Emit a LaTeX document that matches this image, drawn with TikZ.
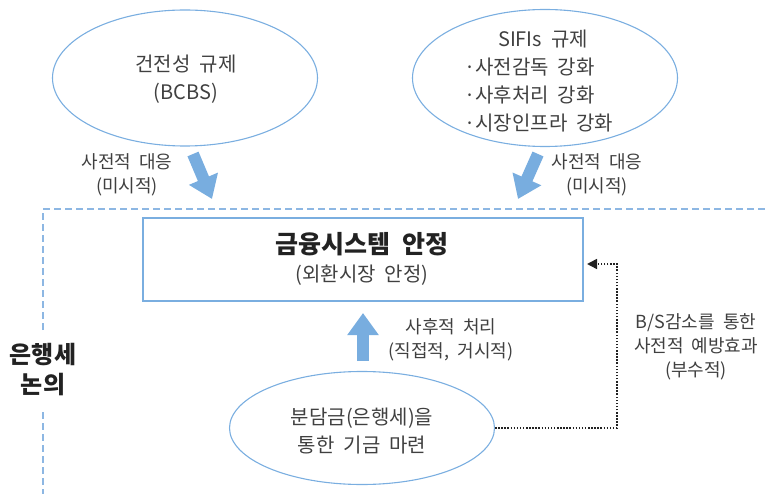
\documentclass[tikz,border=0pt]{standalone}
\usepackage{fontspec}
\setmainfont[WordSpace=2]{Noto Sans CJK KR}
\usetikzlibrary{arrows.meta,shapes.geometric}
\definecolor{lineblue}{HTML}{7AAEE0}
\definecolor{arrowblue}{HTML}{78ADDF}
\definecolor{frameblue}{HTML}{8DB7E3}
\definecolor{txt}{HTML}{404040}
\definecolor{dark}{HTML}{222222}
\tikzset{
  ell/.style={ellipse, draw=lineblue, line width=1.1bp, inner sep=0pt},
  maintxt/.style={align=center, text=txt, inner sep=0pt, font=\fontsize{20bp}{28bp}\selectfont},
  labtxt/.style={align=center, text=txt, inner sep=0pt, font=\fontsize{18bp}{24bp}\selectfont},
  fatarrow/.style={draw=arrowblue, line width=12bp, -{Triangle[width=30bp,length=22bp]}},
  dotline/.style={draw=dark, line width=1.5bp, dash pattern=on 1.5bp off 1.6bp, -{Triangle[width=10bp,length=10bp]}},
  frameline/.style={draw=frameblue, line width=1.2bp, dash pattern=on 7bp off 4bp},
  boxstyle/.style={rectangle, draw=lineblue, line width=1.1bp, inner sep=0pt}
}
\begin{document}
\begin{tikzpicture}[x=1bp,y=-1bp]
\useasboundingbox (0,0) rectangle (768,494);
% frame
\coordinate (fa) at (43,330);
\coordinate (fb) at (43,209);
\coordinate (fc) at (768,209);
\coordinate (fd) at (43,412);
\coordinate (fe) at (43,494);
\draw[frameline] (fa) -- (fb) -- (fc);
\draw[frameline] (fd) -- (fe);
\node[align=center, text=dark, inner sep=0pt, font=\fontsize{24bp}{30bp}\selectfont\bfseries] (bank) at (43,370) {은행세\\논의};
% top ellipses
\node[ell, minimum width=265bp, minimum height=136bp] (bcbsell) at (185,78) {};
\node[maintxt] (bcbs) at (186,79) {건전성 규제\\(BCBS)};
\node[ell, minimum width=265bp, minimum height=137bp] (sifiell) at (545,78) {};
\node[maintxt] (sifi) at (543,39) {SIFIs 규제};
\node[maintxt, align=left, anchor=west] (sifilist) at (464,95) {·사전감독 강화\\·사후처리 강화\\·시장인프라 강화};
% arrows from top
\coordinate (a1s) at (193,154);
\coordinate (a1e) at (212,199);
\coordinate (a2s) at (538,154);
\coordinate (a2e) at (518,199);
\draw[fatarrow] (a1s) -- (a1e);
\draw[fatarrow] (a2s) -- (a2e);
\node[labtxt] (lab1) at (127,175) {사전적 대응\\(미시적)};
\node[labtxt] (lab2) at (597,175) {사전적 대응\\(미시적)};
% main box
\node[boxstyle, minimum width=440bp, minimum height=83bp] (box) at (363,259.5) {};
\node[text=dark, inner sep=0pt, font=\fontsize{25bp}{28bp}\selectfont\bfseries] (title) at (362,244) {금융시스템 안정};
\node[maintxt] (subtitle) at (362,275) {(외환시장 안정)};
% up arrow
\coordinate (a3s) at (363,361);
\coordinate (a3e) at (363,313);
\draw[fatarrow] (a3s) -- (a3e);
\node[labtxt] (lab3) at (451,340) {사후적 처리\\(직접적, 거시적)};
% bottom ellipse
\node[ell, minimum width=265bp, minimum height=113bp] (fundell) at (362,428) {};
\node[maintxt] (fund) at (362,431) {분담금(은행세)을\\통한 기금 마련};
% dotted connector
\coordinate (turn) at (617,428);
\coordinate (tip) at (587,264);
\draw[dotline] (fundell.east) -- (turn) |- (tip);
\node[labtxt] (lab4) at (696,347) {B/S감소를 통한\\사전적 예방효과\\(부수적)};
\end{tikzpicture}
\end{document}
